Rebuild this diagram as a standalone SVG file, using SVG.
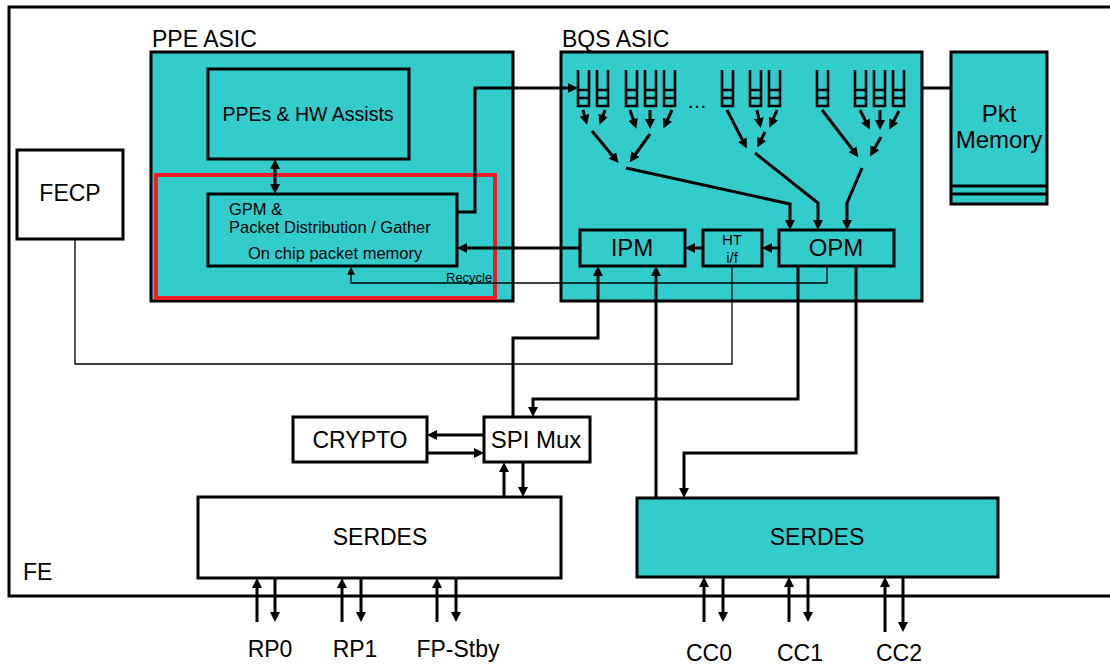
<svg xmlns="http://www.w3.org/2000/svg" width="1110" height="664" viewBox="0 0 1110 664">
<defs>
<style>
.box{fill:#33cccc;stroke:#000;stroke-width:3}
.wbox{fill:#fff;stroke:#000;stroke-width:3}
.ln{fill:none;stroke:#000;stroke-width:3}
.thin{fill:none;stroke:#000;stroke-width:1.3}
.q{fill:none;stroke:#000;stroke-width:2.6}
text{font-family:"Liberation Sans",Arial,sans-serif;fill:#000}
.t23{font-size:23px}
.t24{font-size:24px}
.t19{font-size:19.5px}
.t16{font-size:16.5px}
.t15{font-size:15px}
</style>
<marker id="ah" viewBox="0 0 10 10" refX="6" refY="5" markerWidth="10" markerHeight="10" markerUnits="userSpaceOnUse" orient="auto-start-reverse">
<path d="M0,0 L10,5 L0,10 z" fill="#000"/>
</marker>
<marker id="ahs" viewBox="0 0 10 10" refX="6" refY="5" markerWidth="8" markerHeight="8" markerUnits="userSpaceOnUse" orient="auto">
<path d="M0,0 L10,5 L0,10 z" fill="#000"/>
</marker>
<g id="qicon">
<path class="q" d="M0,0 V36 H11 V0"/>
<path class="q" d="M0,20 H11 M0,28 H11"/>
</g>
</defs>
<rect width="1110" height="664" fill="#fff"/>

<g id="fe">
<rect x="9" y="7" width="1110" height="589" fill="#fff" stroke="#000" stroke-width="3"/>
<text x="23" y="580" class="t23">FE</text>
</g>

<g id="ppe-asic">
<text x="152" y="47" class="t23">PPE ASIC</text>
<rect class="box" x="151" y="52" width="362" height="249"/>
</g>

<g id="ppes">
<rect class="box" x="208" y="69" width="201" height="90"/>
<text x="308" y="121" class="t19" text-anchor="middle">PPEs &amp; HW Assists</text>
</g>

<g id="gpm">
<rect class="box" x="208" y="194" width="249" height="72"/>
<text x="229" y="215" class="t16">GPM &amp;</text>
<text x="229" y="233" class="t16">Packet Distribution / Gather</text>
<text x="248" y="259" class="t16">On chip packet memory</text>
</g>

<g id="bqs-asic">
<text x="562" y="47" class="t23">BQS ASIC</text>
<rect class="box" x="561" y="52" width="361" height="249"/>
</g>

<g id="queues">
<use href="#qicon" x="578" y="70"/>
<use href="#qicon" x="597" y="70"/>
<use href="#qicon" x="626" y="70"/>
<use href="#qicon" x="645" y="70"/>
<use href="#qicon" x="664" y="70"/>
<text x="697" y="108" font-size="20" text-anchor="middle">…</text>
<use href="#qicon" x="722" y="70"/>
<use href="#qicon" x="750" y="70"/>
<use href="#qicon" x="769" y="70"/>
<use href="#qicon" x="817" y="70"/>
<use href="#qicon" x="855" y="70"/>
<use href="#qicon" x="874" y="70"/>
<use href="#qicon" x="893" y="70"/>
</g>

<g id="pkt-memory">
<rect class="box" x="951" y="52" width="96" height="152"/>
<path class="ln" d="M951,186 H1047 M951,194 H1047"/>
<text x="999" y="122" class="t24" text-anchor="middle">Pkt</text>
<text x="999" y="148" class="t24" text-anchor="middle">Memory</text>
</g>

<g id="fecp">
<rect class="wbox" x="17" y="150" width="106" height="89"/>
<text x="70" y="201" class="t23" text-anchor="middle">FECP</text>
</g>

<g id="ipm">
<rect class="box" x="580" y="230" width="105" height="36"/>
<text x="632" y="256" class="t24" text-anchor="middle">IPM</text>
</g>

<g id="ht">
<rect class="box" x="703" y="230" width="59" height="36"/>
<text x="732" y="245" class="t15" text-anchor="middle">HT</text>
<text x="732" y="263" class="t15" text-anchor="middle">i/f</text>
</g>

<g id="opm">
<rect class="box" x="779" y="230" width="115" height="36"/>
<text x="836" y="256" class="t24" text-anchor="middle">OPM</text>
</g>

<g id="red-highlight">
<rect x="156" y="175" width="339" height="123" fill="none" stroke="#ee1c25" stroke-width="4"/>
</g>

<g id="crypto">
<rect class="wbox" x="293" y="417" width="134" height="45"/>
<text x="360" y="448" class="t23" text-anchor="middle">CRYPTO</text>
</g>

<g id="spi-mux">
<rect class="wbox" x="484" y="417" width="106" height="45"/>
<text x="536" y="448" class="t24" text-anchor="middle">SPI Mux</text>
</g>

<g id="serdes-left">
<rect class="wbox" x="198" y="497" width="363" height="81"/>
<text x="380" y="545" class="t23" text-anchor="middle">SERDES</text>
</g>

<g id="serdes-right">
<rect class="box" x="637" y="498" width="361" height="79"/>
<text x="817" y="545" class="t23" text-anchor="middle">SERDES</text>
</g>

<g id="connectors">
<path class="ln" d="M457,212 H475 V88 H574" marker-end="url(#ah)"/>
<path class="ln" d="M580,248 H461" marker-end="url(#ah)"/>
<path class="ln" d="M275,163 V190" marker-start="url(#ah)" marker-end="url(#ah)"/>
<path class="thin" d="M827,266 V283 H351 V270" marker-end="url(#ahs)"/>
<path class="ln" d="M922,88 H951"/>
<path class="thin" d="M75,239 V364 H732 V266"/>
<path class="ln" d="M779,248 H766" marker-end="url(#ah)"/>
<path class="ln" d="M703,248 H689" marker-end="url(#ah)"/>

<path class="ln" d="M583,110 L586,121" marker-end="url(#ah)"/>
<path class="ln" d="M605,110 L601,121" marker-end="url(#ah)"/>
<path class="ln" d="M630,110 L635,125" marker-end="url(#ah)"/>
<path class="ln" d="M650,110 V125" marker-end="url(#ah)"/>
<path class="ln" d="M672,110 L665,125" marker-end="url(#ah)"/>
<path class="ln" d="M592,131 L616,160" marker-end="url(#ah)"/>
<path class="ln" d="M650,134 L632,159" marker-end="url(#ah)"/>
<path class="ln" d="M727,110 L745,145" marker-end="url(#ah)"/>
<path class="ln" d="M757,110 L760,124" marker-end="url(#ah)"/>
<path class="ln" d="M777,110 L771,124" marker-end="url(#ah)"/>
<path class="ln" d="M765,132 L759,144" marker-end="url(#ah)"/>
<path class="ln" d="M822,110 L856,154" marker-end="url(#ah)"/>
<path class="ln" d="M860,110 L868,126" marker-end="url(#ah)"/>
<path class="ln" d="M880,110 V126" marker-end="url(#ah)"/>
<path class="ln" d="M899,111 L891,126" marker-end="url(#ah)"/>
<path class="ln" d="M881,137 L872,153" marker-end="url(#ah)"/>

<path class="ln" d="M626,168 L790,204 V226" marker-end="url(#ah)"/>
<path class="ln" d="M755,153 L818,203 V226" marker-end="url(#ah)"/>
<path class="ln" d="M862,168 L847,203 V226" marker-end="url(#ah)"/>

<path class="ln" d="M513,417 V338 H598 V270" marker-end="url(#ah)"/>
<path class="ln" d="M656,497 V270" marker-end="url(#ah)"/>
<path class="ln" d="M798,266 V399 H533 V413" marker-end="url(#ah)"/>
<path class="ln" d="M856,266 V453 H684 V494" marker-end="url(#ah)"/>
<path class="ln" d="M484,435 H431" marker-end="url(#ah)"/>
<path class="ln" d="M427,453 H480" marker-end="url(#ah)"/>
<path class="ln" d="M504,497 V466" marker-end="url(#ah)"/>
<path class="ln" d="M523,462 V493" marker-end="url(#ah)"/>

<path class="ln" d="M257,622 V582" marker-end="url(#ah)"/>
<path class="ln" d="M275,578 V618" marker-end="url(#ah)"/>
<path class="ln" d="M342,622 V582" marker-end="url(#ah)"/>
<path class="ln" d="M361,578 V618" marker-end="url(#ah)"/>
<path class="ln" d="M437,622 V582" marker-end="url(#ah)"/>
<path class="ln" d="M456,578 V618" marker-end="url(#ah)"/>
<path class="ln" d="M704,622 V581" marker-end="url(#ah)"/>
<path class="ln" d="M723,577 V618" marker-end="url(#ah)"/>
<path class="ln" d="M789,622 V581" marker-end="url(#ah)"/>
<path class="ln" d="M808,577 V618" marker-end="url(#ah)"/>
<path class="ln" d="M885,632 V581" marker-end="url(#ah)"/>
<path class="ln" d="M903,577 V628" marker-end="url(#ah)"/>
</g>

<g id="labels">
<text x="446" y="282" font-size="13">Recycle</text>
<text x="270" y="657" class="t23" text-anchor="middle">RP0</text>
<text x="355" y="657" class="t23" text-anchor="middle">RP1</text>
<text x="458" y="657" class="t23" text-anchor="middle">FP-Stby</text>
<text x="709" y="661" class="t23" text-anchor="middle">CC0</text>
<text x="800" y="661" class="t23" text-anchor="middle">CC1</text>
<text x="899" y="661" class="t23" text-anchor="middle">CC2</text>
</g>
</svg>
